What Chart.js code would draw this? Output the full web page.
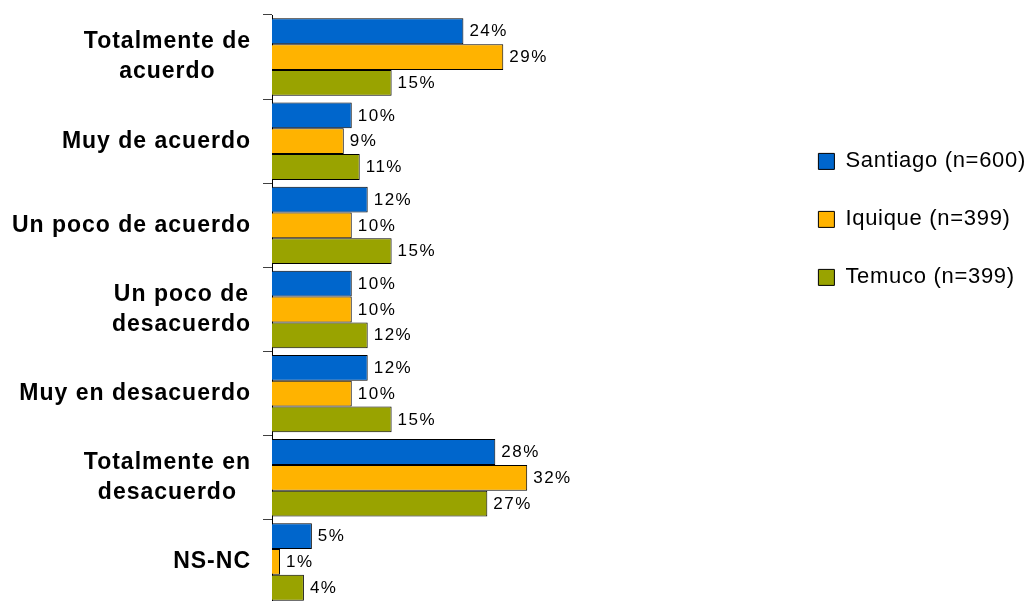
<!DOCTYPE html>
<html>
<head>
<meta charset="utf-8">
<script src="https://cdn.jsdelivr.net/npm/chart.js@4/dist/chart.umd.min.js"></script>
<style>
  html, body { margin: 0; padding: 0; overflow: hidden; background: #fff; }
  #wrap { position: relative; width: 1029px; height: 610px; }
</style>
</head>
<body>
<div id="wrap"><canvas id="c"></canvas></div>
<script>
const categories = [
  ["Totalmente de", "acuerdo"],
  "Muy de acuerdo",
  "Un poco de acuerdo",
  ["Un poco de", "desacuerdo"],
  "Muy en desacuerdo",
  ["Totalmente en", "desacuerdo"],
  "NS-NC"
];
const seriesNames = ["Santiago (n=600)", "Iquique (n=399)", "Temuco (n=399)"];
const santiago = [24, 10, 12, 10, 12, 28, 5];
const iquique  = [29, 9, 10, 10, 10, 32, 1];
const temuco   = [15, 11, 15, 12, 15, 27, 4];
const seriesColors = ["#0066CC", "#FFB300", "#99A300"];
const xMax = 64;

Chart.defaults.font.family = "'Liberation Sans', Arial, sans-serif";

const AXIS_W = 272;

const spacingPlugin = {
  id: 'spacing',
  beforeLayout(chart) { chart.ctx.letterSpacing = '0.7px'; },
  beforeDraw(chart) { chart.ctx.letterSpacing = '0.7px'; },
  afterDatasetsDraw(chart) {
    const ctx = chart.ctx;
    ctx.save();
    ctx.letterSpacing = '1.5px';
    ctx.font = "17px 'Liberation Sans', Arial, sans-serif";
    ctx.fillStyle = '#000';
    ctx.textAlign = 'left';
    ctx.textBaseline = 'middle';
    chart.data.datasets.forEach((ds, di) => {
      const meta = chart.getDatasetMeta(di);
      meta.data.forEach((bar, i) => {
        ctx.fillText(ds.data[i] + '%', bar.x + 6, bar.y + 0.5);
      });
    });
    ctx.restore();
  }
};

new Chart(document.getElementById('c'), {
  type: 'bar',
  data: {
    labels: categories,
    datasets: [
      { label: seriesNames[0], data: santiago, backgroundColor: seriesColors[0] },
      { label: seriesNames[1], data: iquique, backgroundColor: seriesColors[1] },
      { label: seriesNames[2], data: temuco, backgroundColor: seriesColors[2] }
    ].map(d => Object.assign(d, { borderColor: '#000', borderWidth: 1, categoryPercentage: 0.92, barPercentage: 1 }))
  },
  options: {
    indexAxis: 'y',
    responsive: true,
    maintainAspectRatio: false,
    animation: false,
    layout: { padding: { top: 15, bottom: 6, left: 0, right: -7 } },
    scales: {
      x: {
        display: false,
        min: 0,
        max: xMax
      },
      y: {
        offset: true,
        grid: { offset: true, drawOnChartArea: false, drawTicks: true, tickLength: 9, color: '#404040', lineWidth: 1 },
        border: { display: true, color: '#000', width: 1 },
        ticks: {
          color: '#000',
          padding: 12,
          font: { size: 23, weight: 'bold', lineHeight: 1.3 }
        },
        afterFit(scale) {
          scale.width = AXIS_W;
          scale.paddingTop = 0;
          scale.paddingBottom = 0;
          if (!scale.__patched) {
            scale.__patched = true;
            const origCompute = scale._computeLabelItems.bind(scale);
            scale._computeLabelItems = function (area) {
              const items = origCompute(area);
              const ctx = scale.ctx;
              ctx.save();
              ctx.letterSpacing = '1px';
              items.forEach(it => {
                if (Array.isArray(it.label)) {
                  ctx.font = it.font.string;
                  const w = Math.max(...it.label.map(l => ctx.measureText(l).width));
                  it.options.textAlign = 'center';
                  it.options.translation[0] -= w / 2;
                }
              });
              ctx.restore();
              return items;
            };
            const origDraw = scale.drawLabels.bind(scale);
            scale.drawLabels = function (area) {
              const ctx = scale.ctx;
              ctx.save();
              ctx.letterSpacing = '1px';
              origDraw(area);
              ctx.restore();
            };
          }
        }
      }
    },
    plugins: {
      tooltip: { enabled: false },
      legend: {
        position: 'right',
        align: 'start',
        title: { display: true, text: '', font: { size: 12 }, padding: { top: 0, bottom: 85 } },
        labels: {
          color: '#000',
          font: { size: 22 },
          boxWidth: 16,
          boxHeight: 16,
          padding: 36
        }
      }
    }
  },
  plugins: [spacingPlugin]
});
</script>
</body>
</html>
